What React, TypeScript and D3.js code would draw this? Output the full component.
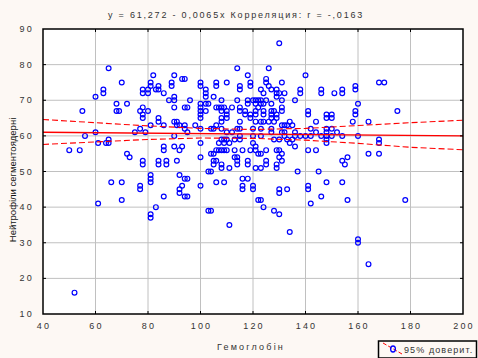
import * as d3 from "d3";

const width = 478;
const height = 358;
const margin = { top: 29, right: 15, bottom: 44, left: 43 };

const titleText = "y = 61,272 - 0,0065x  Корреляция: r = -,0163";
const xLabel = "Гемоглобін";
const yLabel = "Нейтрофіли сегментоядерні";
const legendText = "95% доверит.";

const xTicks = [40, 60, 80, 100, 120, 140, 160, 180, 200];
const yTicks = [10, 20, 30, 40, 50, 60, 70, 80, 90];

// hemoglobin, neutrophils
const points: [number, number][] = [
  [65, 79], [70, 75], [63, 72], [63, 73], [60, 71], [68, 69], [72, 69], [68, 67], [69, 67], [55, 67],
  [60, 61], [56, 60], [61, 58], [64, 58], [65, 59], [65, 58], [50, 56], [54, 56], [72, 55], [73, 54],
  [75, 61], [77, 62], [79, 61], [78, 65], [78, 66], [77, 67], [80, 67], [78, 68], [78, 72], [78, 73],
  [80, 72], [80, 73], [81, 74], [81, 75], [82, 77], [83, 73], [84, 73], [84, 74], [86, 72], [84, 65],
  [84, 64], [86, 63], [90, 77], [93, 76], [94, 76], [89, 74], [89, 75], [88, 70], [90, 71], [90, 70],
  [90, 68], [94, 68], [95, 68], [96, 70], [90, 64], [91, 64], [91, 63], [92, 63], [94, 63], [94, 62],
  [95, 61], [90, 60], [86, 57], [86, 56], [90, 57], [92, 56], [93, 57], [91, 53], [78, 52], [78, 53],
  [84, 52], [84, 53], [87, 52], [87, 53], [92, 49], [81, 49], [81, 48], [81, 47], [66, 47], [70, 47],
  [77, 45], [77, 46], [92, 45], [92, 44], [93, 46], [94, 43], [95, 43], [94, 48], [95, 48], [86, 43],
  [61, 41], [70, 42], [83, 40], [81, 37], [81, 38], [52, 16], [81, 63],
  [100, 74], [100, 75], [102, 73], [102, 72], [102, 71], [105, 71], [106, 74], [106, 75], [108, 70], [100, 69],
  [102, 69], [103, 69], [100, 67], [100, 68], [102, 67], [106, 68], [108, 67], [109, 68], [100, 65], [100, 66],
  [108, 65], [108, 64], [98, 63], [100, 62], [104, 62], [105, 62], [106, 63], [108, 62], [100, 58], [100, 54],
  [104, 55], [105, 55], [105, 52], [105, 53], [108, 51], [108, 52], [106, 56], [107, 56], [109, 56], [107, 58],
  [109, 58], [109, 59], [100, 46], [103, 50], [104, 50], [106, 47], [109, 47], [103, 39], [104, 39],
  [130, 86], [114, 79], [126, 79], [118, 77], [140, 77], [110, 75], [125, 76], [125, 75], [115, 73], [115, 74],
  [119, 74], [119, 75], [123, 73], [124, 72], [127, 73], [129, 73], [129, 72], [130, 72], [132, 72], [138, 72],
  [138, 73], [146, 72], [146, 73], [114, 70], [118, 70], [120, 70], [121, 70], [122, 70], [123, 69], [125, 70],
  [131, 70], [136, 70], [148, 65], [148, 66], [141, 66], [141, 67], [144, 64], [148, 62], [131, 75], [126, 74],
  [129, 71], [151, 72], [154, 72], [154, 73], [118, 69], [123, 70], [121, 69], [122, 68], [124, 69], [127, 69],
  [131, 68], [131, 67], [107, 68], [108, 68], [112, 68], [115, 67], [117, 66], [117, 67], [115, 68], [110, 67],
  [119, 65], [119, 66], [121, 67], [121, 66], [124, 66], [124, 67], [127, 67], [128, 67], [127, 65], [127, 66],
  [129, 65], [129, 66], [110, 65], [110, 66], [150, 65], [150, 66], [115, 64], [121, 64], [123, 64], [124, 64],
  [126, 64], [128, 64], [131, 63], [132, 63], [133, 63], [134, 64], [135, 63], [110, 61], [112, 61], [114, 62],
  [115, 62], [120, 62], [123, 62], [123, 60], [120, 60], [127, 62], [127, 61], [132, 61], [131, 61], [136, 61],
  [136, 60], [138, 60], [140, 60], [142, 62], [142, 60], [144, 61], [146, 60], [148, 61], [148, 60], [150, 62],
  [150, 60], [152, 61], [154, 60], [108, 59], [110, 59], [111, 58], [113, 59], [115, 59], [115, 60], [120, 58],
  [128, 59], [130, 59], [132, 60], [133, 59], [134, 58], [135, 59], [136, 57], [108, 56], [110, 56], [113, 56],
  [116, 56], [119, 56], [121, 57], [121, 56], [122, 55], [123, 55], [125, 56], [129, 56], [130, 56], [131, 55],
  [131, 53], [130, 54], [125, 53], [125, 52], [141, 56], [144, 56], [113, 54], [114, 54], [106, 53], [111, 51],
  [114, 52], [114, 53], [118, 52], [118, 53], [121, 51], [123, 51], [129, 51], [129, 52], [154, 53], [137, 50],
  [145, 50], [116, 48], [118, 48], [116, 45], [116, 46], [120, 45], [120, 46], [130, 45], [130, 44], [133, 45],
  [141, 45], [141, 46], [148, 47], [154, 47], [122, 42], [123, 42], [124, 40], [128, 39], [130, 38], [142, 41],
  [146, 43], [111, 35], [134, 33],
  [168, 75], [170, 75], [159, 73], [159, 74], [160, 69], [175, 67], [159, 66], [159, 67], [158, 64], [164, 64],
  [160, 60], [168, 58], [168, 59], [164, 55], [168, 55], [156, 54], [155, 52], [156, 42], [178, 42], [148, 58],
  [148, 59], [160, 30], [160, 31], [164, 24],
];

// fitted line and 95% band, read at grid x values
const fitX = [40, 200];
const fitY = [61.0, 60.0];
const bandX = [40, 60, 80, 100, 120, 140, 160, 180, 200];
const bandUpper = [64.6, 63.7, 62.8, 62.1, 61.8, 62.1, 62.9, 63.7, 64.4];
const bandLower = [57.6, 58.3, 59.0, 59.4, 59.3, 58.8, 57.9, 56.8, 56.1];

const tickFont = "'Liberation Sans Narrow', 'Liberation Sans', Arial, sans-serif";

export default function App() {
  const x = d3.scaleLinear().domain([40, 200]).range([margin.left, width - margin.right]);
  const y = d3.scaleLinear().domain([10, 90]).range([height - margin.bottom, margin.top]);
  const x0 = x.range()[0], x1 = x.range()[1];
  const y0 = y.range()[1], y1 = y.range()[0];

  const line = d3.line<[number, number]>().x(d => x(d[0])).y(d => y(d[1]));
  const upper = bandX.map((v, i) => [v, bandUpper[i]] as [number, number]);
  const lower = bandX.map((v, i) => [v, bandLower[i]] as [number, number]);
  const fit = fitX.map((v, i) => [v, fitY[i]] as [number, number]);

  return (
    <svg width={width} height={height} style={{ position: "absolute", left: 0, top: 0, background: "#fdf8f4" }}>
      <rect x={0} y={0} width={width} height={height} fill="#fdf8f4" />
      <rect x={x0} y={y0} width={x1 - x0} height={y1 - y0} fill="#ffffff" />

      {/* grid */}
      {xTicks.slice(1, -1).map(t => (
        <line key={"gx" + t} x1={x(t)} x2={x(t)} y1={y0} y2={y1} stroke="#c0c0c0" strokeWidth={1} />
      ))}
      {yTicks.slice(1, -1).map(t => (
        <line key={"gy" + t} x1={x0} x2={x1} y1={y(t)} y2={y(t)} stroke="#c0c0c0" strokeWidth={1} />
      ))}

      {/* points */}
      {points.map((d, i) => (
        <circle key={i} cx={x(d[0])} cy={y(d[1])} r={2.4} fill="none" stroke="#0000ff" strokeWidth={1.2} />
      ))}

      {/* regression + band */}
      <path d={line(upper) ?? ""} fill="none" stroke="#ff0000" strokeWidth={1.1} strokeDasharray="6,3" />
      <path d={line(lower) ?? ""} fill="none" stroke="#ff0000" strokeWidth={1.1} strokeDasharray="6,3" />
      <path d={line(fit) ?? ""} fill="none" stroke="#ff0000" strokeWidth={1.5} />

      {/* inner ticks */}
      {xTicks.slice(1, -1).map(t => (
        <g key={"tx" + t}>
          <line x1={x(t)} x2={x(t)} y1={y0} y2={y0 + 3} stroke="#000" />
          <line x1={x(t)} x2={x(t)} y1={y1} y2={y1 - 3} stroke="#000" />
        </g>
      ))}
      {yTicks.slice(1, -1).map(t => (
        <g key={"ty" + t}>
          <line x1={x0} x2={x0 + 3} y1={y(t)} y2={y(t)} stroke="#000" />
          <line x1={x1} x2={x1 - 3} y1={y(t)} y2={y(t)} stroke="#000" />
        </g>
      ))}

      <rect x={x0} y={y0} width={x1 - x0} height={y1 - y0} fill="none" stroke="#000" strokeWidth={1.5} />

      {/* tick labels */}
      {xTicks.map(t => (
        <text key={"lx" + t} x={x(t) + 1} y={y1 + 15} textAnchor="middle" fontFamily={tickFont}
          fontSize={9} letterSpacing={2.2} fill="#333">{t}</text>
      ))}
      {yTicks.map(t => (
        <text key={"ly" + t} x={x0 - 9} y={y(t) + 3} textAnchor="end" fontFamily={tickFont}
          fontSize={9} letterSpacing={2.2} fill="#333">{t}</text>
      ))}

      {/* title and axis labels */}
      <text x={236} y={18} textAnchor="middle" fontFamily={tickFont} fontSize={9} letterSpacing={1.8} fill="#333">
        {titleText}
      </text>
      <text x={251} y={350} textAnchor="middle" fontFamily={tickFont} fontSize={9} letterSpacing={2.2} fill="#333">
        {xLabel}
      </text>
      <text transform={`translate(16, 180) rotate(-90)`} textAnchor="middle"
        fontFamily="'Liberation Sans', Arial, sans-serif" fontSize={9.5} fill="#111">
        {yLabel}
      </text>

      {/* legend */}
      <g>
        <rect x={378.5} y={341} width={98} height={17} fill="#fdf8f4" stroke="#000" strokeWidth={1.5} />
        <line x1={383} y1={343} x2={402} y2={354} stroke="#ff0000" strokeWidth={1} strokeDasharray="4,2" />
        <ellipse cx={393} cy={349} rx={2.4} ry={3} fill="none" stroke="#0000ff" strokeWidth={1.3} />
        <text x={404} y={352.5} fontFamily={tickFont} fontSize={9} letterSpacing={1.1} fill="#333">{legendText}</text>
      </g>
    </svg>
  );
}
